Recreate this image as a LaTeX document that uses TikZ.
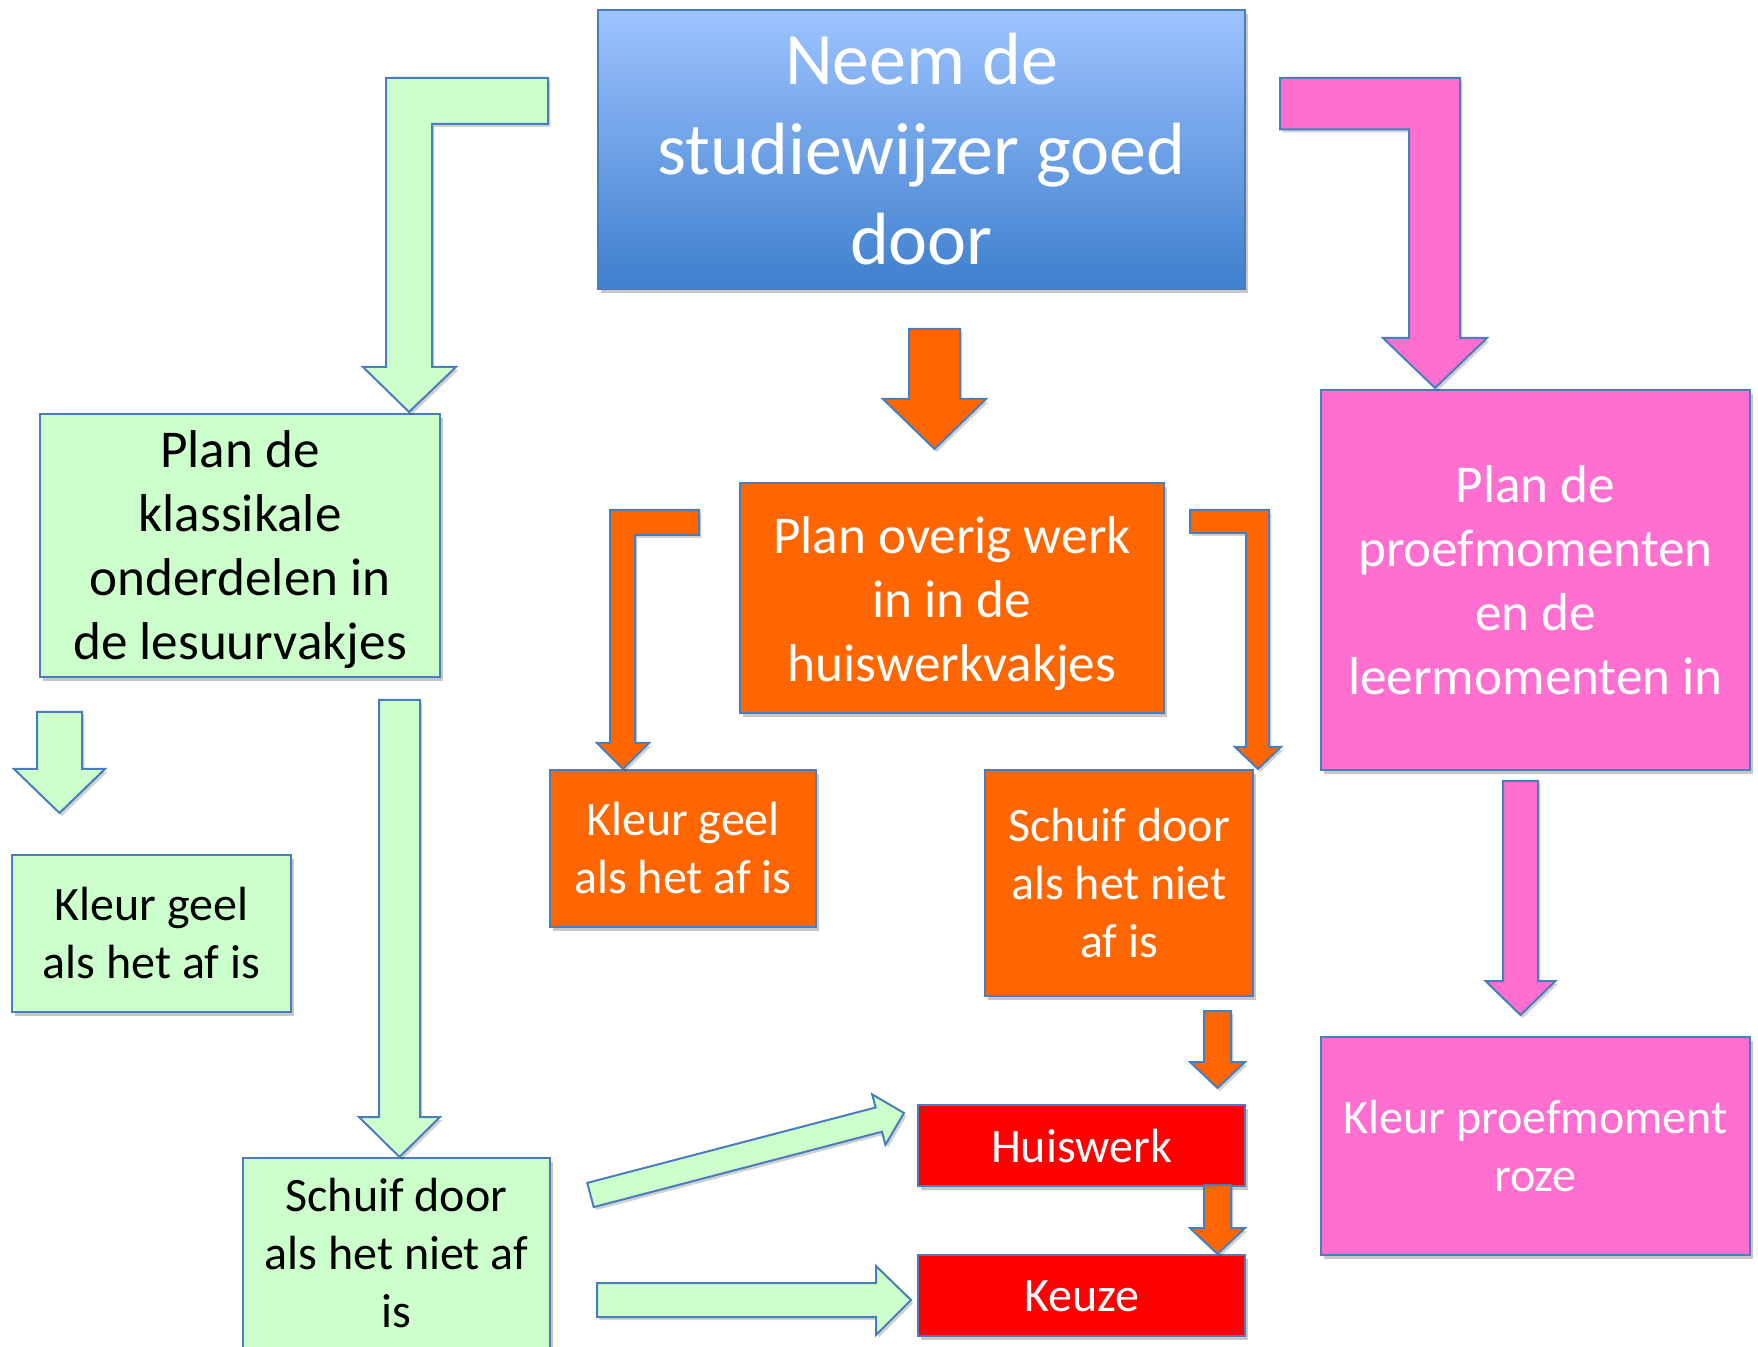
\documentclass[tikz,border=0pt]{standalone}
\usepackage{fontspec}
\setmainfont{Carlito}
\usetikzlibrary{shadows}
\definecolor{bord}{HTML}{4A7EBB}
\definecolor{lgreen}{HTML}{CCFFCC}
\definecolor{orng}{HTML}{FF6600}
\definecolor{pnk}{HTML}{FF6FCF}
\definecolor{rd}{HTML}{FF0000}
\definecolor{blueT}{HTML}{9DC3FF}
\definecolor{blueB}{HTML}{3F7FCD}
% box: name, box style, text style, x1, y1, x2, y2, text, text shift (pt, downwards)
\newcommand\boxat[9]{%
  \node[box,#2,minimum width={(#6-#4)*0.5pt},minimum height={(#7-#5)*0.5pt}] (#1) at (#4,#5) {};
  \node[boxtext,#3,yshift=-#9pt] (#1-t) at (#1.center) {#8};}
% downward block arrow: style, cx, ytop, yhead, ytip, shaft half, head half
\newcommand\darrow[7]{%
  \draw[barrow,#1] (#2-#6,#3) -- (#2+#6,#3) -- (#2+#6,#4) -- (#2+#7,#4) -- (#2,#5) -- (#2-#7,#4) -- (#2-#6,#4) -- cycle;}
\begin{document}
\begin{tikzpicture}[x=0.5pt,y=-0.5pt,
  box/.style={draw=bord,line width=1pt,inner sep=0pt,anchor=north west,
    drop shadow={shadow xshift=1.5pt,shadow yshift=-2pt,opacity=0.22,fill=black}},
  boxtext/.style={inner sep=0pt,align=center},
  barrow/.style={draw=bord,line width=1pt,line join=miter,
    drop shadow={shadow xshift=1.2pt,shadow yshift=-1.5pt,opacity=0.18,fill=black}},
  gfill/.style={fill=lgreen},
  ofill/.style={fill=orng},
  pfill/.style={fill=pnk},
  big/.style={font=\fontsize{37}{45}\selectfont},
  mid/.style={font=\fontsize{26.6}{32}\selectfont},
  sml/.style={font=\fontsize{24}{29}\selectfont},
]
\useasboundingbox (0,0) rectangle (1758,1347);

% ---------- boxes ----------
\boxat{top}{top color=blueT,bottom color=blueB}{big,text=white}{597}{9}{1244}{288}{Neem de\\studiewijzer goed\\door}{0}
\boxat{g1}{gfill}{mid}{39}{413}{439}{676}{Plan de\\klassikale\\onderdelen in\\de lesuurvakjes}{2.2}
\boxat{g2}{gfill}{sml}{11}{854}{290}{1011}{Kleur geel\\als het af is}{0}
\boxat{g3}{gfill}{sml}{242}{1157}{549}{1352}{Schuif door\\als het niet af\\is}{-1.4}
\boxat{o1}{ofill}{mid,text=white}{739}{482}{1163}{712}{Plan overig werk\\in in de\\huiswerkvakjes}{2.8}
\boxat{o2}{ofill}{sml,text=white}{549}{769}{815}{926}{Kleur geel\\als het af is}{0}
\boxat{o3}{ofill}{sml,text=white}{984}{769}{1252}{995}{Schuif door\\als het niet\\af is}{0}
\boxat{p1}{pfill}{mid,text=white}{1320}{389}{1749}{769}{Plan de\\proefmomenten\\en de\\leermomenten in}{0}
\boxat{p2}{pfill}{sml,text=white}{1320}{1036}{1749}{1254}{Kleur proefmoment\\roze}{0}
\boxat{hw}{fill=rd}{sml,text=white}{917}{1104}{1244}{1185}{Huiswerk}{0.4}
\boxat{kz}{fill=rd}{sml,text=white}{917}{1254}{1244}{1335}{Keuze}{0.4}

% ---------- bent arrows ----------
\draw[barrow,gfill] (548,78) -- (386,78) -- (386,367) -- (363,367) -- (409,412) -- (456,367)
  -- (432,367) -- (432,124) -- (548,124) -- cycle;
\draw[barrow,pfill] (1280,78) -- (1460,78) -- (1460,338) -- (1487,338) -- (1435,388) -- (1383,338)
  -- (1409,338) -- (1409,129.5) -- (1280,129.5) -- cycle;
\draw[barrow,ofill] (699,510) -- (610,510) -- (610,743) -- (597,743) -- (623,769) -- (649,743)
  -- (635,743) -- (635,535) -- (699,535) -- cycle;
\draw[barrow,ofill] (1190,510) -- (1269,510) -- (1269,747) -- (1281,747) -- (1258,769) -- (1235,747)
  -- (1246,747) -- (1246,533) -- (1190,533) -- cycle;

% ---------- straight down arrows ----------
\darrow{ofill}{934.5}{329}{399}{449}{25.5}{51.5}
\darrow{gfill}{59.5}{712}{769}{813}{22.5}{45.5}
\darrow{gfill}{399.5}{700}{1117}{1157}{20.5}{40.5}
\darrow{pfill}{1520.5}{781}{981}{1015}{17.5}{35}
\darrow{ofill}{1217.5}{1011}{1062}{1088}{13.5}{27.5}
\darrow{ofill}{1217.5}{1185}{1228}{1254}{13.5}{27.5}

% ---------- arrows to Huiswerk / Keuze ----------
\draw[barrow,gfill] (587.3,1182.9) -- (875.6,1107.5) -- (872.2,1094.4) -- (904,1113)
  -- (885.4,1144.8) -- (882.0,1131.7) -- (593.7,1207.1) -- cycle;
\draw[barrow,gfill] (597,1283) -- (876,1283) -- (876,1266) -- (911,1300) -- (876,1335)
  -- (876,1317) -- (597,1317) -- cycle;
\end{tikzpicture}
\end{document}
